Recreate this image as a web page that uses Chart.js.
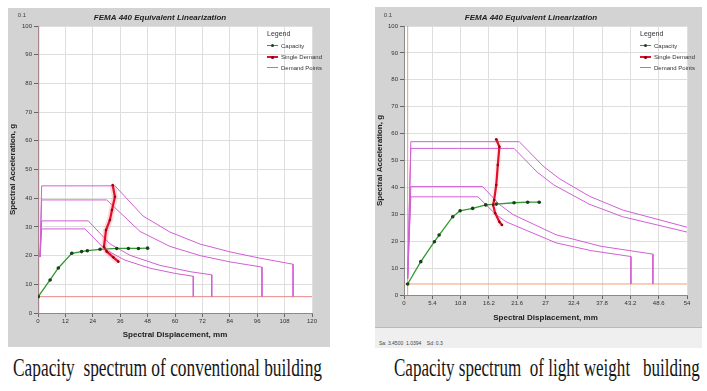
<!DOCTYPE html>
<html>
<head>
<meta charset="utf-8">
<script src="https://cdn.jsdelivr.net/npm/chart.js@4.4.1/dist/chart.umd.min.js"></script>
<style>
  html, body { margin: 0; padding: 0; background: #fff; }
  body { width: 707px; height: 391px; position: relative; overflow: hidden;
         font-family: "Liberation Sans Narrow", "Liberation Sans", Arial, sans-serif; }
  .frame { position: absolute; background: #d3d3d3; }
  .frame canvas { position: absolute; left: 0; top: 0; }
  .legend { position: absolute; color: #333; font-size: 6px; line-height: 1; }
  .legend .ttl { font-size: 7px; height: 10px; }
  .legend .row { display: flex; align-items: center; height: 11px; }
  .legend .smp { width: 11px; margin-right: 3px; position: relative; }
  .legend .smp i { position: absolute; left: 4px; top: -2px; width: 3px; height: 3px; border-radius: 50%; }
  .status { position: absolute; left: 0; right: 0; bottom: 0; height: 21px; background: #efefef; white-space: pre;
            border-top: 1px solid #b9b9b9; font-size: 5px; color: #444; box-sizing: border-box; padding: 12px 0 0 4px; }
  .caption { position: absolute; top: 354px; font-family: "Liberation Serif", "Times New Roman", serif;
             font-size: 25px; color: #161616; white-space: pre; transform-origin: 0 0; }
</style>
</head>
<body>

<div class="frame" style="left:8px;top:8px;width:322px;height:339px;">
  <canvas id="convChart" width="322" height="339"></canvas>
  <div class="legend" style="left:259px;top:22px;">
    <div class="ttl">Legend</div>
    <div class="row"><span class="smp" style="border-top:1px solid #2f9a2f;"><i style="background:#1d3d1d;"></i></span>Capacity</div>
    <div class="row"><span class="smp" style="border-top:2px solid #e0102a;"><i style="background:#7a0010;"></i></span>Single Demand</div>
    <div class="row"><span class="smp" style="border-top:1px solid #d25fd6;"></span>Demand Points</div>
  </div>
</div>

<div class="frame" style="left:375px;top:7px;width:327px;height:341px;">
  <canvas id="lwChart" width="327" height="320"></canvas>
  <div class="legend" style="left:265px;top:23px;">
    <div class="ttl">Legend</div>
    <div class="row"><span class="smp" style="border-top:1px solid #2f9a2f;"><i style="background:#1d3d1d;"></i></span>Capacity</div>
    <div class="row"><span class="smp" style="border-top:2px solid #e0102a;"><i style="background:#7a0010;"></i></span>Single Demand</div>
    <div class="row"><span class="smp" style="border-top:1px solid #d25fd6;"></span>Demand Points</div>
  </div>
  <div class="status">Sa: 3.4500  1.0394    Sd: 0.3</div>
</div>

<div class="caption" style="left:13px;" data-width="309">Capacity  spectrum of conventional building</div>
<div class="caption" style="left:394px;" data-width="306">Capacity spectrum  of light weight   building</div>

<script>
// ---- conventional building (left) ----
const CONV_X_TICKS = [0, 12, 24, 36, 48, 60, 72, 84, 96, 108, 120];
const CONV_Y_TICKS = [0, 10, 20, 30, 40, 50, 60, 70, 80, 90, 100];
const CONV_CAPACITY = [[0.1, 5.7], [5.3, 11.5], [8.9, 15.7], [14.8, 20.8], [19.1, 21.4], [21.6, 21.7],
  [27.2, 22.2], [34.5, 22.5], [39.6, 22.5], [44.0, 22.5], [48.0, 22.6]];
const CONV_SINGLE_DEMAND = [[32.7, 44.6], [33.7, 40.5], [32.4, 35.9], [31.5, 32.4], [29.8, 28.9],
  [28.9, 23.1], [30.1, 21.4], [33.0, 19.4], [35.2, 17.9]];
const CONV_DEMAND_1 = [[0.9, 19.5], [1.6, 44.3], [33.7, 44.3], [46.0, 33.8], [57.8, 28.2], [71.0, 24.0],
  [84.1, 21.3], [97.2, 19.1], [111.7, 17.0], [111.7, 5.7]];
const CONV_DEMAND_2 = [[0.9, 19.5], [1.6, 39.4], [30.1, 39.4], [44.7, 28.4], [57.8, 23.2], [71.0, 20.0],
  [84.1, 17.8], [98.1, 16.0], [98.1, 5.7]];
const CONV_DEMAND_3 = [[0.9, 19.5], [1.6, 32.1], [22.0, 32.1], [31.5, 24.1], [40.3, 20.1], [53.4, 16.6],
  [66.6, 14.4], [76.1, 13.3], [76.1, 5.7]];
const CONV_DEMAND_4 = [[0.9, 19.5], [1.6, 29.3], [20.6, 29.3], [29.3, 22.2], [38.1, 18.4], [49.1, 15.6],
  [60.0, 13.8], [68.0, 12.8], [68.0, 5.7]];
const CONV_BASE_Y = 5.7;
const CONV_BASE_X = 0.4;

// ---- light weight building (right) ----
const LW_X_TICKS = [0, 5.4, 10.8, 16.2, 21.6, 27, 32.4, 37.8, 43.2, 48.6, 54];
const LW_Y_TICKS = [0, 10, 20, 30, 40, 50, 60, 70, 80, 90, 100];
const LW_CAPACITY = [[0.7, 4.1], [3.2, 12.4], [5.8, 19.8], [6.7, 22.3], [9.3, 29.1], [10.7, 31.3],
  [13.1, 32.2], [15.6, 33.5], [17.6, 33.8], [21.0, 34.3], [23.6, 34.5], [25.8, 34.5]];
const LW_SINGLE_DEMAND = [[17.6, 57.9], [18.2, 55.1], [17.9, 48.3], [17.6, 40.9], [17.2, 35.3],
  [17.0, 33.5], [17.4, 30.4], [18.2, 27.2], [18.7, 26.0]];
const LW_DEMAND_1 = [[0.7, 6.0], [1.3, 57.0], [22.0, 57.0], [26.5, 48.0], [29.6, 43.3], [35.4, 36.7],
  [41.7, 31.6], [54.0, 25.2]];
const LW_DEMAND_2 = [[0.7, 6.0], [1.3, 54.5], [21.0, 54.5], [25.4, 45.7], [28.6, 40.9], [35.3, 33.8],
  [41.7, 29.1], [54.0, 23.4]];
const LW_DEMAND_3 = [[0.7, 6.0], [1.3, 40.3], [15.0, 40.3], [18.2, 33.7], [20.8, 29.9], [29.0, 22.4],
  [37.6, 18.1], [47.5, 15.2], [47.5, 4.1]];
const LW_DEMAND_4 = [[0.7, 6.0], [1.3, 36.5], [14.1, 36.5], [17.6, 29.8], [19.5, 27.2], [29.0, 19.4],
  [35.7, 16.5], [43.3, 14.3], [43.3, 4.1]];
const LW_BASE_Y = 4.1;
const LW_BASE_X = 0.7;

const FONT = '"Liberation Sans Narrow", "Liberation Sans", Arial, sans-serif';
const DEMAND_COLOR = '#d25fd6';

const toXY = (pts) => pts.map(([x, y]) => ({ x, y }));

// white plot area + small "0.1" label above the y axis
const plotArea = {
  id: 'plotArea',
  beforeDraw(chart) {
    const { ctx, chartArea: a } = chart;
    ctx.save();
    ctx.fillStyle = '#ffffff';
    ctx.fillRect(a.left, a.top, a.right - a.left, a.bottom - a.top);
    ctx.restore();
  },
  afterDraw(chart) {
    const { ctx, chartArea: a } = chart;
    ctx.save();
    ctx.fillStyle = '#444';
    ctx.font = '6px ' + FONT;
    ctx.textAlign = 'center';
    ctx.fillText('0.1', a.left - 16, a.top - 9);
    ctx.restore();
  },
};

const makeChart = (id, o) => {
  const line = (data, color, width, extra = {}) => Object.assign({
    data: toXY(data), borderColor: color, borderWidth: width, pointRadius: 0, tension: 0, fill: false,
  }, extra);

  const xMin = o.xTicks[0], xMax = o.xTicks[o.xTicks.length - 1];
  const yMin = o.yTicks[0], yMax = o.yTicks[o.yTicks.length - 1];

  const datasets = [
    line(o.single, '#e0102a', 2.2, { pointRadius: 1.3, pointBackgroundColor: '#8a0a18', pointBorderWidth: 0 }),
    line(o.single, o.glow, 6),
    line(o.capacity, '#2f9a2f', 1.3, { pointRadius: 1.8, pointBackgroundColor: '#1d3d1d', pointBorderWidth: 0 }),
    ...o.demands.map((d) => line(d, DEMAND_COLOR, 1)),
    line([[xMin, o.baseY], [xMax, o.baseY]], o.baseColor, 1),
    line([[o.baseX, yMin], [o.baseX, yMax]], o.vColor, 1),
  ];

  const tickFont = { family: FONT, size: 6 };
  const grid = { color: '#dedede', tickColor: '#666', tickLength: 4 };

  return new Chart(document.getElementById(id), {
    type: 'line',
    data: { datasets },
    plugins: [plotArea],
    options: {
      responsive: false,
      animation: false,
      devicePixelRatio: 1,
      layout: { padding: { top: o.padTop, right: o.padRight, left: 0, bottom: 0 } },
      plugins: {
        legend: { display: false },
        tooltip: { enabled: false },
        title: {
          display: true,
          text: 'FEMA 440 Equivalent Linearization',
          color: '#222',
          font: { family: FONT, size: 8, style: 'italic', weight: 'bold' },
          padding: { top: 5, bottom: 3 },
        },
      },
      scales: {
        x: {
          type: 'linear', min: xMin, max: xMax,
          afterBuildTicks: (s) => { s.ticks = o.xTicks.map((v) => ({ value: v })); },
          afterFit: (s) => { s.height = o.xHeight; },
          ticks: { font: tickFont, color: '#333', padding: 1, maxRotation: 0, callback: (v) => String(v) },
          grid,
          border: { color: '#8a8a8a' },
          title: {
            display: true, text: 'Spectral Displacement, mm', color: '#222',
            font: { family: FONT, size: 8, weight: 'bold' }, padding: { top: 0, bottom: o.xTitlePad },
          },
        },
        y: {
          type: 'linear', min: yMin, max: yMax,
          afterBuildTicks: (s) => { s.ticks = o.yTicks.map((v) => ({ value: v })); },
          afterFit: (s) => { s.width = o.yWidth; },
          ticks: { font: tickFont, color: '#333', padding: 2, callback: (v) => String(v) },
          grid,
          border: { color: '#8a8a8a' },
          title: {
            display: true, text: 'Spectral Acceleration, g', color: '#222',
            font: { family: FONT, size: 8, weight: 'bold' }, padding: { top: 0, bottom: 0 },
          },
        },
      },
    },
  });
};

makeChart('convChart', {
  xTicks: CONV_X_TICKS, yTicks: CONV_Y_TICKS,
  capacity: CONV_CAPACITY, single: CONV_SINGLE_DEMAND,
  demands: [CONV_DEMAND_1, CONV_DEMAND_2, CONV_DEMAND_3, CONV_DEMAND_4],
  baseY: CONV_BASE_Y, baseX: CONV_BASE_X,
  baseColor: '#e88a8a', vColor: 'rgba(230,120,140,0.55)', glow: 'rgba(255,110,130,0.28)',
  padTop: 0.4, padRight: 18, yWidth: 30, xHeight: 34, xTitlePad: 7,
});

makeChart('lwChart', {
  xTicks: LW_X_TICKS, yTicks: LW_Y_TICKS,
  capacity: LW_CAPACITY, single: LW_SINGLE_DEMAND,
  demands: [LW_DEMAND_1, LW_DEMAND_2, LW_DEMAND_3, LW_DEMAND_4],
  baseY: LW_BASE_Y, baseX: LW_BASE_X,
  baseColor: '#f0a070', vColor: '#f0a070', glow: 'rgba(255,110,130,0.1)',
  padTop: 1.4, padRight: 15, yWidth: 29, xHeight: 32, xTitlePad: 4,
});

// squeeze the captions to the width they take in the original
document.querySelectorAll('.caption').forEach((el) => {
  const target = Number(el.dataset.width);
  el.style.transform = `scaleX(${target / el.offsetWidth})`;
});
</script>
</body>
</html>
